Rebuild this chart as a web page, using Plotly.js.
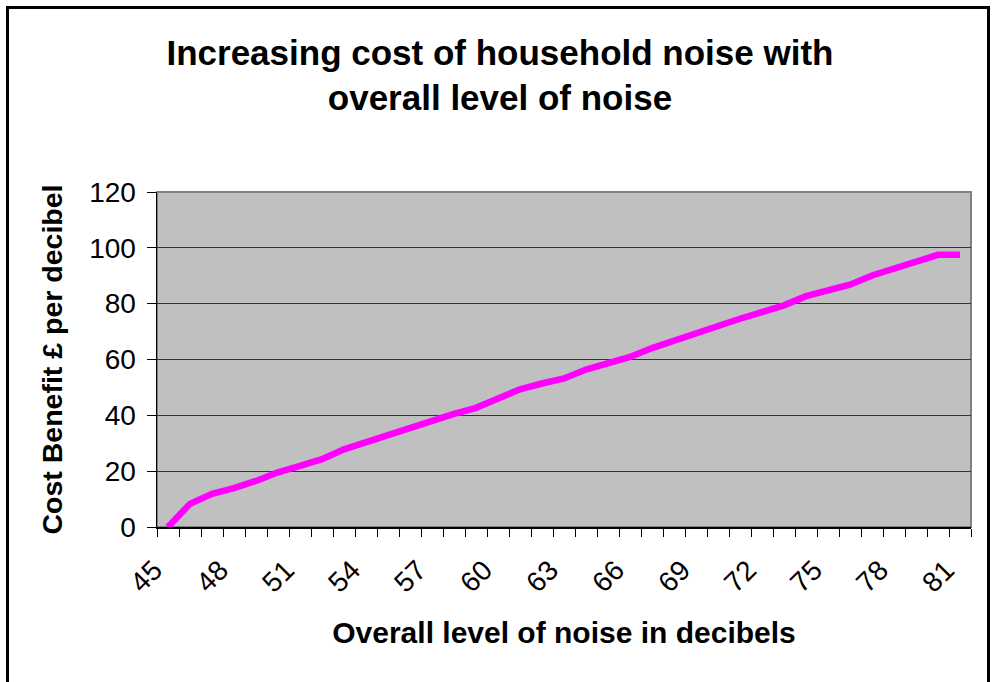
<!DOCTYPE html>
<html>
<head>
<meta charset="utf-8">
<script src="https://cdn.plot.ly/plotly-3.0.1.min.js"></script>
<style>
  html, body { margin: 0; padding: 0; background: #ffffff; }
  #chart { width: 993px; height: 682px; }
</style>
</head>
<body>
<div id="chart"></div>
<script>
// Overall noise level (dB) — one category per decibel
const noiseLevels = [45, 46, 47, 48, 49, 50, 51, 52, 53, 54, 55, 56, 57, 58, 59, 60, 61, 62, 63,
                     64, 65, 66, 67, 68, 69, 70, 71, 72, 73, 74, 75, 76, 77, 78, 79, 80, 81];
// Cost benefit (£ per decibel)
const costPerDecibel = [0, 8.3, 11.9, 13.9, 16.5, 19.6, 21.9, 24.3, 27.8, 30.4, 32.6, 35.3, 38.3,
                        40.5, 42.7, 46.3, 49.3, 51.4, 53.2, 56.4, 58.8, 60.9, 64.1, 66.8, 69.3,
                        72.3, 74.6, 77.0, 79.4, 82.7, 85.0, 86.8, 90.1, 92.7, 95.1, 97.5, 97.5];
// Labelled ticks on the x axis
const xTickValues = [45, 48, 51, 54, 57, 60, 63, 66, 69, 72, 75, 78, 81];
const xTickText = xTickValues.map(String);
const yTickValues = [0, 20, 40, 60, 80, 100, 120];

const FONT = 'Liberation Sans, Arial, sans-serif';

const trace = {
  x: noiseLevels,
  y: costPerDecibel,
  type: 'scatter',
  mode: 'lines',
  line: { color: '#ff00ff', width: 6.5 },
  hoverinfo: 'x+y'
};

const layout = {
  width: 993,
  height: 682,
  paper_bgcolor: '#ffffff',
  plot_bgcolor: '#c0c0c0',
  showlegend: false,
  margin: { l: 157, r: 22, t: 192, b: 155, pad: 0 },
  font: { family: FONT, color: '#000000' },
  title: {
    text: '<b>Increasing cost of household noise with<br>overall level of noise</b>',
    font: { family: FONT, size: 35, color: '#000000' },
    xref: 'container', x: 0.5035, xanchor: 'center',
    yref: 'container', y: 0.905, yanchor: 'top'
  },
  xaxis: {
    type: 'linear',
    range: [44.5, 81.5],
    tickmode: 'array',
    tickvals: xTickValues,
    ticktext: xTickText,
    tickangle: -45,
    ticks: '',
    ticklabelshift: -14,
    ticklabelstandoff: 14,
    tickfont: { family: FONT, size: 28, color: '#000000' },
    showgrid: false,
    zeroline: false,
    showline: true,
    linecolor: '#000000',
    linewidth: 1.5,
    minor: {
      tickmode: 'linear',
      tick0: 44.5,
      dtick: 1,
      ticks: 'outside',
      ticklen: 8,
      tickwidth: 1,
      tickcolor: '#000000',
      showgrid: false
    },
    automargin: false,
    title: {
      text: '<b>Overall level of noise in decibels</b>',
      font: { family: FONT, size: 30, color: '#000000' },
      standoff: 24
    }
  },
  yaxis: {
    range: [0, 120],
    tickmode: 'array',
    tickvals: yTickValues,
    ticks: 'outside',
    ticklen: 9,
    tickwidth: 1,
    tickcolor: '#000000',
    tickfont: { family: FONT, size: 28, color: '#000000' },
    ticklabelstandoff: 5,
    showgrid: true,
    gridcolor: '#333333',
    gridwidth: 1,
    zeroline: false,
    showline: true,
    linecolor: '#000000',
    linewidth: 1.5,
    automargin: false,
    title: {
      text: '<b>Cost Benefit £ per decibel</b>',
      font: { family: FONT, size: 28.5, color: '#000000' },
      standoff: 18
    }
  },
  shapes: [
    {
      type: 'rect', xref: 'paper', yref: 'paper',
      x0: 0, x1: 1, y0: 0, y1: 1,
      line: { color: '#808080', width: 2 },
      fillcolor: 'rgba(0,0,0,0)',
      layer: 'between'
    },
    {
      type: 'rect', xref: 'paper', yref: 'paper',
      x0: (7.5 - 157) / 814, x1: (988.5 - 157) / 814,
      y0: -0.6, y1: (527 - 7.5) / 335,
      line: { color: '#000000', width: 3 },
      fillcolor: 'rgba(0,0,0,0)',
      layer: 'above'
    }
  ]
};

Plotly.newPlot('chart', [trace], layout, { displayModeBar: false, staticPlot: true });
</script>
</body>
</html>
